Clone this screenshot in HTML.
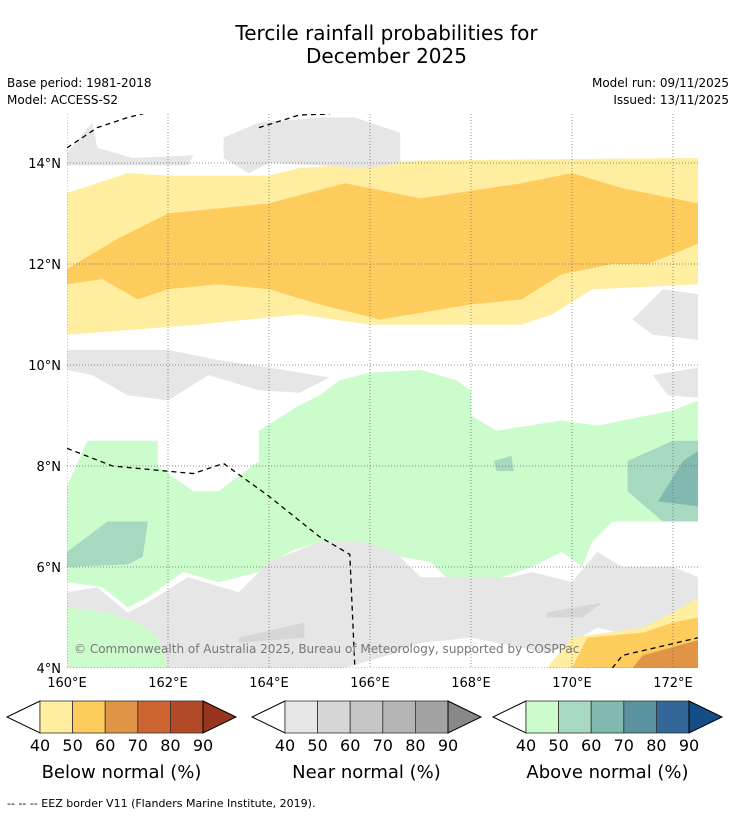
<!DOCTYPE html>
<html><head><meta charset="utf-8">
<style>
html,body{margin:0;padding:0;background:#fff;}
body{width:736px;height:816px;position:relative;font-family:"DejaVu Sans","Liberation Sans",sans-serif;overflow:hidden;}
.t{position:absolute;white-space:nowrap;color:#000;}
</style></head>
<body>
<div class="t" style="left:0;width:773px;text-align:center;top:22px;font-size:20px;line-height:23px;">Tercile rainfall probabilities for<br>December 2025</div>
<div class="t" style="left:7px;top:76px;font-size:12px;">Base period: 1981-2018</div>
<div class="t" style="left:7px;top:93px;font-size:12px;">Model: ACCESS-S2</div>
<div class="t" style="right:7px;top:76px;font-size:12px;">Model run: 09/11/2025</div>
<div class="t" style="right:7px;top:93px;font-size:12px;">Issued: 13/11/2025</div>
<svg id="map" width="736" height="816" style="position:absolute;left:0;top:0;"></svg>
<div class="t" style="left:7px;top:797px;font-size:11px;">--  --  -- EEZ border V11 (Flanders Marine Institute, 2019).</div>
<script>
const lonTicks=[160,162,164,166,168,170,172];
const latTicks=[4,6,8,10,12,14];
const cbTicks=[40,50,60,70,80,90];
const belowColors=['#ffeda0','#fecc5c','#e09446','#cd6533','#b24a27','#97351f'];
const nearColors=['#e6e6e6','#d6d6d6','#c6c6c6','#b4b4b4','#a2a2a2','#888888'];
const aboveColors=['#ccfccc','#a6d9bf','#81b8b0','#5a92a0','#336699','#154e86'];
const cbTitles=['Below normal (%)','Near normal (%)','Above normal (%)'];
const regions=[
 {c:'#ffeda0',p:[[160,13.4],[161.2,13.8],[162,13.75],[164,13.75],[164.6,13.9],[167,14.05],[172.5,14.1],[172.5,11.6],[171.5,11.55],[170.4,11.5],[169.6,11.0],[169,10.8],[166,10.8],[164.6,11.0],[162.6,10.8],[160,10.6]]},
 {c:'#fecc5c',p:[[160,11.9],[161,12.5],[162,13.0],[164,13.2],[165.5,13.6],[167,13.3],[169,13.6],[170,13.8],[171,13.5],[172.5,13.2],[172.5,12.4],[171.5,12.0],[170.8,12.0],[169.8,11.8],[169,11.3],[168,11.2],[166.2,10.9],[165,11.2],[164,11.5],[163,11.6],[162,11.5],[161.4,11.3],[160.7,11.7],[160,11.6]]},
 {c:'#e6e6e6',p:[[163.1,14.5],[163.8,14.8],[165,14.9],[165.7,14.9],[166.6,14.6],[166.6,14.0],[166,13.9],[164,14.0],[163.6,13.8],[163.1,14.1]]},
 {c:'#e6e6e6',p:[[160,14.2],[160.5,14.8],[160.6,14.3],[161.3,14.1],[162.5,14.15],[162.4,13.95],[160,13.95]]},
 {c:'#e6e6e6',p:[[160,10.3],[162,10.3],[163,10.1],[164,9.95],[165.2,9.75],[164.6,9.45],[163.8,9.5],[162.8,9.8],[162,9.3],[161.2,9.4],[160.5,9.8],[160,9.9]]},
 {c:'#e6e6e6',p:[[172.5,11.4],[171.8,11.5],[171.2,10.9],[171.6,10.6],[172.5,10.5]]},
 {c:'#e6e6e6',p:[[172.5,9.95],[171.6,9.8],[171.9,9.4],[172.5,9.35]]},
 {c:'#ccfccc',p:[[160,7.6],[160.4,8.5],[161.8,8.5],[161.8,8.0],[162.5,7.5],[163,7.5],[163.8,8.1],[163.8,8.7],[164.6,9.2],[165,9.4],[165.4,9.7],[166,9.85],[167,9.9],[167.7,9.7],[168,9.5],[168,9.0],[168.5,8.7],[169.8,8.9],[170.5,8.8],[171,8.9],[172,9.1],[172.5,9.3],[172.5,6.9],[170.8,6.9],[170.4,6.5],[170.2,6.0],[169.8,6.3],[169.2,6.0],[168.6,5.8],[167.6,5.7],[167.2,6.1],[166,6.3],[165.6,6.5],[165,6.5],[164.4,6.3],[163.8,5.9],[163,5.7],[162.3,5.9],[161.6,5.4],[161.2,5.2],[160.7,5.6],[160,5.7]]},
 {c:'#ccfccc',p:[[160,4],[160,5.2],[160.8,5.1],[161.4,4.9],[161.8,4.6],[162,4]]},
 {c:'#e6e6e6',p:[[160,5.5],[160.6,5.6],[161.2,5.1],[161.6,5.3],[162.4,5.8],[163.4,5.5],[164,6.1],[165,6.5],[165.8,6.5],[166.5,6.3],[167,5.8],[168.8,5.8],[169.2,5.9],[170,5.7],[170.5,6.3],[171,6.0],[172,6.0],[172.5,5.8],[172.5,5.2],[172,5.0],[171.4,4.6],[170.5,4.8],[170,4.5],[169.5,4.3],[168,4.6],[167,4.5],[166.5,4.3],[165.5,4.0],[162,4.0],[161.8,4.6],[161.4,4.9],[160.8,5.1],[160,5.2]]},
 {c:'#d6d6d6',p:[[163.4,4.6],[164.7,4.9],[164.7,4.6],[163.4,4.5]]},
 {c:'#d6d6d6',p:[[169.5,5.1],[170.6,5.3],[170.2,5.0],[169.5,5.0]]},
 {c:'#ffeda0',p:[[169.5,4],[170,4.6],[171.4,4.8],[172,5.1],[172.5,5.4],[172.5,4]]},
 {c:'#fecc5c',p:[[170,4],[170.3,4.6],[171.4,4.7],[172,4.9],[172.5,5.0],[172.5,4]]},
 {c:'#e09446',p:[[171.2,4],[171.4,4.25],[172.5,4.55],[172.5,4]]},
 {c:'#a6d9bf',p:[[160,6.3],[160.8,6.9],[161.6,6.9],[161.5,6.2],[161.2,6.05],[160,6.0]]},
 {c:'#a6d9bf',p:[[171.1,8.1],[172,8.5],[172.5,8.5],[172.5,6.9],[171.8,6.9],[171.1,7.5]]},
 {c:'#81b8b0',p:[[171.7,7.3],[172.2,8.1],[172.5,8.3],[172.5,7.2]]},
 {c:'#a6d9bf',p:[[168.45,8.1],[168.8,8.2],[168.85,7.9],[168.5,7.9]]}
];
const eez=[
 [[160,14.3],[160.6,14.7],[161.2,14.9],[161.6,15]],
 [[163.8,14.7],[164.6,14.95],[165.2,14.97]],
 [[160,8.35],[160.9,8.0],[162.5,7.85],[163.1,8.05],[164,7.4],[165,6.6],[165.6,6.25],[165.7,4.0]],
 [[170.8,4],[171,4.25],[172.5,4.6]]
];
const NS='http://www.w3.org/2000/svg';
const svg=document.getElementById('map');
const X0=67,X1=698,Y0=114,Y1=668;
const xs=lon=>67+(lon-160)*50.5;
const ys=lat=>668-(lat-4)*50.5;
function mk(t,a,parent){const e=document.createElementNS(NS,t);for(const k in a)e.setAttribute(k,a[k]);(parent||svg).appendChild(e);return e;}
const defs=mk('defs',{});const cp=mk('clipPath',{id:'clip'},defs);mk('rect',{x:X0,y:Y0,width:X1-X0,height:Y1-Y0},cp);
const g=mk('g',{'clip-path':'url(#clip)'});
regions.forEach((r,i)=>{
 const e=mk('polygon',{points:r.p.map(q=>xs(q[0])+','+ys(q[1])).join(' '),fill:r.c},g);
 
 
});
lonTicks.forEach(v=>{
 const l=mk('line',{x1:xs(v),x2:xs(v),y1:Y0,y2:Y1,stroke:'#666','stroke-width':0.7,'stroke-dasharray':'1,2'},g);
 
 
 const t=mk('text',{x:xs(v),y:687,'font-size':13,'text-anchor':'middle','font-family':'DejaVu Sans,Liberation Sans,sans-serif'});
 t.textContent=v+'°E';
 
 
});
latTicks.forEach(v=>{
 const l=mk('line',{x1:X0,x2:X1,y1:ys(v),y2:ys(v),stroke:'#666','stroke-width':0.7,'stroke-dasharray':'1,2'},g);
 
 
 const t=mk('text',{x:61,y:ys(v)+5,'font-size':13,'text-anchor':'end','font-family':'DejaVu Sans,Liberation Sans,sans-serif'});
 t.textContent=v+'°N';
 
 
});
eez.forEach(s=>{
 const e=mk('polyline',{points:s.map(q=>xs(q[0])+','+ys(q[1])).join(' '),fill:'none',stroke:'#000','stroke-width':1.3,'stroke-dasharray':'5,4'},g);
 
 
});
const cr=mk('text',{x:74,y:653,'font-size':12,fill:'#777','font-family':'DejaVu Sans,Liberation Sans,sans-serif'});
cr.textContent='© Commonwealth of Australia 2025, Bureau of Meteorology, supported by COSPPac';


const cbLeft=[40,285,526];
[belowColors,nearColors,aboveColors].forEach((cols,k)=>{
 const L=cbLeft[k],W=163,top=701,bot=733,mid=717,step=W/5;
 const gg=mk('g',{});
 
 
 mk('polygon',{points:`${L},${top} ${L-33},${mid} ${L},${bot}`,fill:'#fff',stroke:'#000','stroke-width':1},gg);
 for(let i=0;i<5;i++) mk('rect',{x:L+i*step,y:top,width:step,height:bot-top,fill:cols[i],stroke:'#333','stroke-width':0.8},gg);
 mk('polygon',{points:`${L+W},${top} ${L+W+33},${mid} ${L+W},${bot}`,fill:cols[5],stroke:'#000','stroke-width':1},gg);
 cbTicks.forEach((v,i)=>{const t=mk('text',{x:L+i*step,y:751,'font-size':16,'text-anchor':'middle','font-family':'DejaVu Sans,Liberation Sans,sans-serif'},gg);t.textContent=v;});
 const tt=mk('text',{x:L+W/2,y:778,'font-size':18,'text-anchor':'middle','font-family':'DejaVu Sans,Liberation Sans,sans-serif'},gg);
 tt.textContent=cbTitles[k];
});
</script>
</body></html>
